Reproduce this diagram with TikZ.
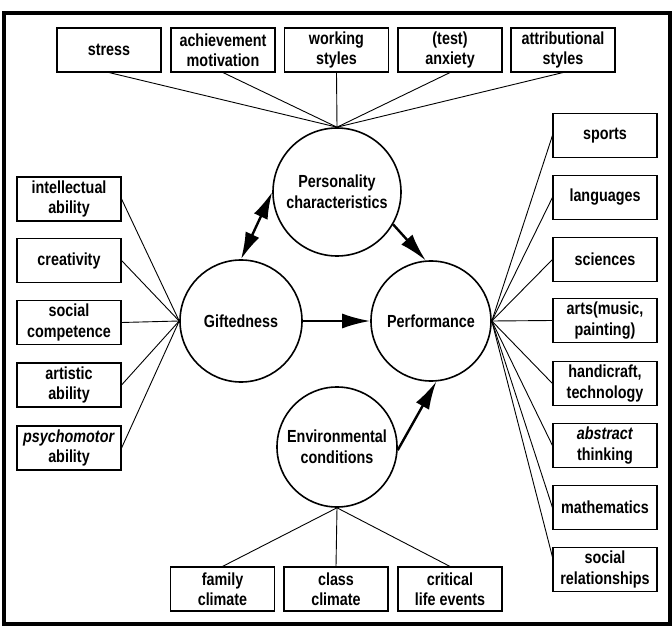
\documentclass[tikz,border=0pt]{standalone}
\usepackage{fontspec}
\setmainfont[FakeStretch=0.82]{Liberation Sans}
\usetikzlibrary{arrows.meta}
\begin{document}
\begin{tikzpicture}[x=1pt,y=-1pt,
  box/.style={draw,line width=1.1pt,minimum width=104pt,minimum height=44pt,inner sep=0pt,align=center,font=\fontsize{17.5}{20.5}\selectfont\bfseries},
  circ/.style={draw,circle,line width=1.6pt,inner sep=0pt,align=center,font=\fontsize{17.5}{21}\selectfont\bfseries},
  link/.style={line width=0.9pt},
  bigarrow/.style={line width=2.4pt,-{Latex[length=28pt,width=15pt]}},
  dblarrow/.style={line width=2.4pt,{Latex[length=27pt,width=15pt]}-{Latex[length=27pt,width=15pt]}}]
\useasboundingbox (0,0) rectangle (672,628);
\draw[line width=3.5pt] (4,13) rectangle (670,624);
% circles
\node[circ,minimum size=128pt] (pers) at (337,192) {Personality\\characteristics};
\node[circ,minimum size=122pt] (gift) at (241,321) {Giftedness};
\node[circ,minimum size=120pt] (perf) at (431,321) {Performance};
\node[circ,minimum size=120pt] (env) at (337,447) {Environmental\\conditions};
% top boxes
\node[box] (t1) at (109,50) {stress};
\node[box] (t2) at (223,50) {achievement\\motivation};
\node[box] (t3) at (336.5,50) {working\\styles};
\node[box] (t4) at (450,50) {(test)\\anxiety};
\node[box] (t5) at (563,50) {attributional\\styles};
% left boxes
\node[box] (l1) at (69,199) {intellectual\\ability};
\node[box] (l2) at (69,260.5) {creativity};
\node[box] (l3) at (69,322.5) {social\\competence};
\node[box] (l4) at (69,385) {artistic\\ability};
\node[box] (l5) at (69,448) {\textit{psychomotor}\\ability};
% right boxes
\node[box] (r1) at (605,135.5) {sports};
\node[box] (r2) at (605,197.5) {languages};
\node[box] (r3) at (605,259.5) {sciences};
\node[box] (r4) at (605,320.5) {arts(music,\\painting)};
\node[box] (r5) at (605,383.5) {handicraft,\\technology};
\node[box] (r6) at (605,445.5) {\textit{abstract}\\thinking};
\node[box] (r7) at (605,507.5) {mathematics};
\node[box] (r8) at (605,569.5) {social\\relationships};
% bottom boxes
\node[box] (b1) at (222.5,589) {family\\climate};
\node[box] (b2) at (336,589) {class\\climate};
\node[box] (b3) at (450,589) {critical\\life events};
% links
\foreach \t in {t1,t2,t3,t4,t5} \draw[link] (\t.south) -- (pers.north);
\foreach \l in {l1,l2,l3,l4,l5} \draw[link] (\l.east) -- (gift.west);
\foreach \r in {r1,r2,r3,r4,r5,r6,r7} \draw[link] (perf.east) -- (\r.west);
\coordinate (r8in) at ([yshift=-10pt]r8.north west);
\draw[link] (perf.east) -- (r8in);
\foreach \b in {b1,b2,b3} \draw[link] (env.south) -- (\b.north);
% arrows
\draw[bigarrow] (gift.east) -- (perf.west);
\draw[bigarrow] (pers.-30) -- (perf.95);
\draw[bigarrow] (env.-3) -- (perf.-85);
\draw[dblarrow] (gift.90) -- (pers.180);
\end{tikzpicture}
\end{document}
